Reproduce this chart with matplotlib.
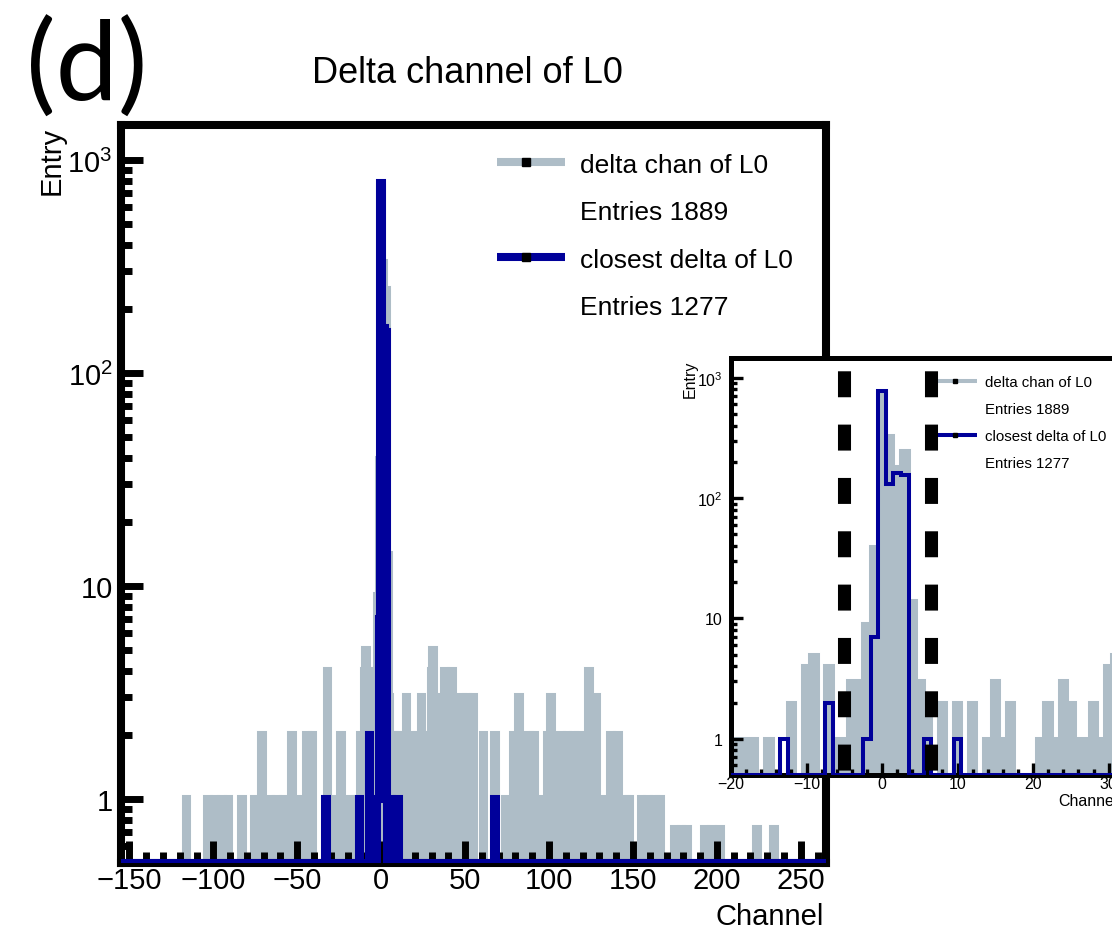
import numpy as np
import matplotlib
import matplotlib.pyplot as plt
from matplotlib.ticker import FixedLocator, FixedFormatter, LogLocator, MultipleLocator, NullFormatter

plt.rcParams['font.family'] = ['Liberation Sans', 'DejaVu Sans']
plt.rcParams['mathtext.fontset'] = 'custom'
plt.rcParams['mathtext.rm'] = 'Liberation Sans'
plt.rcParams['mathtext.default'] = 'regular'
plt.rcParams['lines.scale_dashes'] = False

W, H = 1112, 928
YMIN, YMAX = 0.5, 1460
GRAY = '#aebdc7'
BLUE = '#00009a'

# -------------------------------
# data: one-channel bins, centred on integer channels (only non-empty bins)
# -------------------------------
gray_chan = [-116, -103, -99, -95, -91, -83, -75, -71, -66, -62, -58, -53, -49, -44, -41,
             -32, -28, -24, -19, -18, -17, -15, -12, -10, -9, -7, -6, -5, -4, -3, -2, -1,
             0, 1, 2, 3, 4, 5, 6, 8, 10, 12, 14, 15, 16, 17, 21, 22, 23, 24, 25, 26, 27,
             28, 29, 30, 31, 33, 38, 42, 48, 51, 55, 61, 68, 74, 79, 82, 88, 91, 96, 99,
             101, 107, 111, 115, 118, 124, 128, 132, 137, 141, 146, 148, 155, 159, 163,
             166, 175, 179, 182, 193, 197, 202, 224, 234]
gray_count = [1, 1, 1, 1, 1, 1, 1, 2, 1, 1, 1, 2, 1, 2, 2,
              4, 1, 2, 1, 1, 1, 1, 2, 4, 5, 4, 1, 1, 3, 3, 9, 39,
              740, 328, 181, 245, 14, 3, 2, 2, 2, 2, 1, 3, 1, 2, 1, 2, 1, 3, 2, 1, 1,
              2, 1, 4, 5, 3, 4, 4, 3, 3, 3, 2, 2, 1, 2, 3, 2, 2, 1, 2,
              3, 2, 2, 2, 2, 4, 3, 1, 2, 2, 1, 1, 1, 1, 1,
              1, 0.72, 0.72, 0.72, 0.72, 0.72, 0.72, 0.72, 0.72]

blue_chan = [-33, -13, -7, -2, -1, 0, 1, 2, 3, 6, 10, 68]
blue_count = [1, 1, 2, 1, 7, 777, 131, 162, 155, 1, 1, 1]

cut_lo, cut_hi = -5, 6.5

edges = np.arange(-155.5, 266.0, 1.0)


def fill_hist(chans, counts):
    h = np.zeros(len(edges) - 1)
    for c, n in zip(chans, counts):
        h[int(c + 155)] = n
    return np.clip(h, YMIN, None)


gray_h = fill_hist(gray_chan, gray_count)
blue_h = fill_hist(blue_chan, blue_count)


def draw_hists(ax, lw):
    ax.stairs(gray_h, edges, baseline=YMIN, fill=True, color=GRAY, lw=0, zorder=1.0)
    ax.stairs(gray_h, edges, baseline=None, color=GRAY, lw=lw, zorder=1.1, joinstyle='miter')
    ax.stairs(blue_h, edges, baseline=None, color=BLUE, lw=lw, zorder=3, joinstyle='miter')


def add_axes_px(fig, box):
    l, t, r, b = box
    return fig.add_axes([l / W, 1 - b / H, (r - l) / W, (b - t) / H])


def frac(box, px, py):
    l, t, r, b = box
    return (px - l) / (r - l), (b - py) / (b - t)


def style_log_axes(ax, xlim, xmaj, xmin, spine_w, tick_w, maj_len, min_len, fs, ypad, xpad):
    ax.set_xlim(*xlim)
    ax.set_yscale('log')
    ax.set_ylim(YMIN, YMAX)
    for s in ax.spines.values():
        s.set_linewidth(spine_w)
    ax.xaxis.set_major_locator(MultipleLocator(xmaj))
    ax.xaxis.set_minor_locator(MultipleLocator(xmin))
    ax.yaxis.set_major_locator(FixedLocator([1, 10, 100, 1000]))
    ax.yaxis.set_major_formatter(FixedFormatter(['1', '10', '$10^{2}$', '$10^{3}$']))
    ax.yaxis.set_minor_locator(LogLocator(base=10, subs=np.arange(2, 10)))
    ax.yaxis.set_minor_formatter(NullFormatter())
    ax.tick_params(which='both', direction='in', top=False, right=False, width=tick_w, labelsize=fs)
    ax.tick_params(which='major', length=maj_len)
    ax.tick_params(which='minor', length=min_len)
    ax.tick_params(axis='y', pad=ypad)
    ax.tick_params(axis='x', pad=xpad)


fig = plt.figure(figsize=(W / 100, H / 100), dpi=100)

# -------------------------------
# main panel
# -------------------------------
MAIN = (121, 126, 826, 864)
ax = add_axes_px(fig, MAIN)
draw_hists(ax, 5.8)
style_log_axes(ax, (-155, 265), 50, 10, 5.8, 5, 16, 8, 21, 6, 2.5)

legend_rows = [(GRAY, 'delta chan of L0', 'Entries 1889'),
               (BLUE, 'closest delta of L0', 'Entries 1277')]
for i, (col, name, entries) in enumerate(legend_rows):
    y = 163 + i * 95
    x0, y0 = frac(MAIN, 497, y)
    x1, _ = frac(MAIN, 565, y)
    xm, _ = frac(MAIN, 526, y)
    ax.plot([x0, x1], [y0, y0], color=col, lw=5.8, solid_capstyle='butt',
            transform=ax.transAxes, clip_on=False, zorder=5)
    ax.plot([xm], [y0], marker='s', ms=5.5, color='black', transform=ax.transAxes,
            clip_on=False, zorder=6)
    fig.text(580 / W, 1 - (y + 10) / H, name, fontsize=19, va='baseline')
    fig.text(580 / W, 1 - (y + 57) / H, entries, fontsize=19, va='baseline')

fig.text(312 / W, 1 - 83 / H, 'Delta channel of L0', fontsize=26, va='baseline')
fig.text(26 / W, 1 - 101 / H, '(d)', fontsize=80, va='baseline', family=['Lato', 'DejaVu Sans'])
fig.text(52 / W, 1 - 161 / H, 'Entry', fontsize=21, rotation=90, ha='center', va='center')
fig.text(824 / W, 1 - 925 / H, 'Channel', fontsize=21, ha='right', va='baseline')

# -------------------------------
# zoomed inset
# -------------------------------
INSET = (731, 359, 1120, 776)
ins = add_axes_px(fig, INSET)
ins.set_facecolor('white')
draw_hists(ins, 2.9)
style_log_axes(ins, (-20, 31.5), 10, 2, 3.6, 2.4, 8.5, 4.3, 11.5, 6, 1)

for xc in (cut_lo, cut_hi):
    ins.plot([xc, xc], [YMAX, YMIN], color='black', lw=9.4,
             linestyle=(29.2, (18.7, 19.7)), zorder=6)

for i, (col, name, entries) in enumerate(legend_rows):
    y = 382 + i * 54
    x0, y0 = frac(INSET, 925, y)
    x1, _ = frac(INSET, 977, y)
    xm, _ = frac(INSET, 955, y)
    ins.plot([x0, x1], [y0, y0], color=col, lw=2.9, solid_capstyle='butt',
             transform=ins.transAxes, clip_on=False, zorder=5)
    ins.plot([xm], [y0], marker='s', ms=2.8, color='black', transform=ins.transAxes,
             clip_on=False, zorder=5.5)
    fig.text(985 / W, 1 - (y + 5) / H, name, fontsize=10.8, va='baseline')
    fig.text(985 / W, 1 - (y + 32) / H, entries, fontsize=10.8, va='baseline')

fig.text(690 / W, 1 - 379 / H, 'Entry', fontsize=11.5, rotation=90, ha='center', va='center')
fig.text(1118 / W, 1 - 806 / H, 'Channel', fontsize=11.5, ha='right', va='baseline')

fig.savefig('out.png', dpi=100)
